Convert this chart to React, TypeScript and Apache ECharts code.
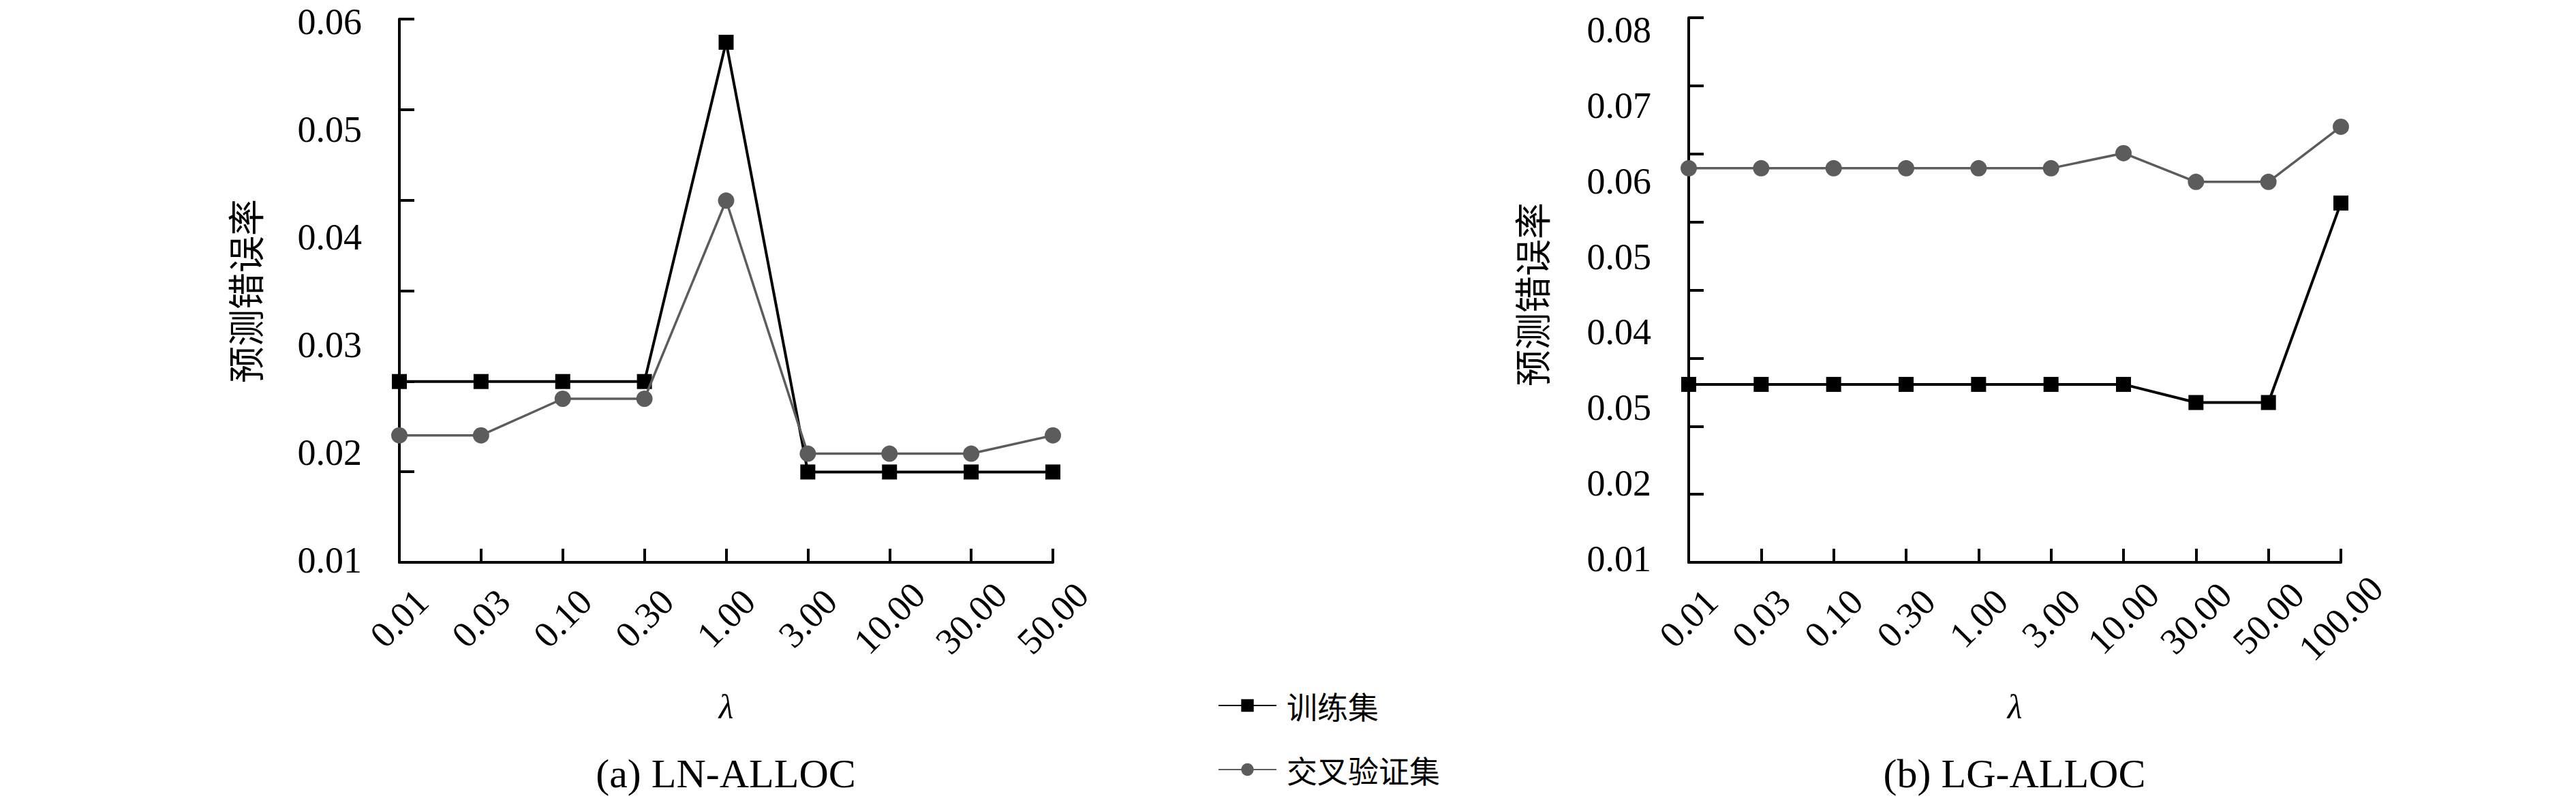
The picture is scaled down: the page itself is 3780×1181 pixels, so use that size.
import React, { useEffect, useRef } from "react";
import * as echarts from "echarts";

// ---- data ----
const lnLambda = ["0.01", "0.03", "0.10", "0.30", "1.00", "3.00", "10.00", "30.00", "50.00"];
const lnTrain = [0.0266, 0.0266, 0.0266, 0.0266, 0.0581, 0.0182, 0.0182, 0.0182, 0.0182];
const lnCV = [0.0216, 0.0216, 0.025, 0.025, 0.0434, 0.0199, 0.0199, 0.0199, 0.0216];

const lgLambda = ["0.01", "0.03", "0.10", "0.30", "1.00", "3.00", "10.00", "30.00", "50.00", "100.00"];
const lgTrain = [0.0331, 0.0331, 0.0331, 0.0331, 0.0331, 0.0331, 0.0331, 0.0307, 0.0307, 0.0571];
const lgCV = [0.0617, 0.0617, 0.0617, 0.0617, 0.0617, 0.0617, 0.0637, 0.0599, 0.0599, 0.0672];

const lnYTickLabels = ["0.01", "0.02", "0.03", "0.04", "0.05", "0.06"];
const lgYTickLabels = ["0.01", "0.02", "0.05", "0.04", "0.05", "0.06", "0.07", "0.08"];

const seriesNames = ["训练集", "交叉验证集"];
const subTitles = ["(a) LN-ALLOC", "(b) LG-ALLOC"];
const xName = "λ";
const yName = "预测错误率";

const SERIF = "Liberation Serif";
const CJK = "Noto Sans CJK SC";

export default function App() {
  const ref = useRef<HTMLDivElement>(null);
  useEffect(() => {
    if (!ref.current) return;
    const chart = echarts.init(ref.current, null, { renderer: "svg" });

    const axisLineStyle = { color: "#000", width: 4 };

    const makeDataX = (gridIndex: number, cats: string[]) => ({
      type: "category",
      gridIndex,
      data: cats,
      boundaryGap: false,
      offset: gridIndex === 0 ? 3 : 5,
      axisLine: { show: true, lineStyle: axisLineStyle },
      axisTick: { show: true, inside: true, length: 20, lineStyle: { width: 4, color: "#000" }, interval: 0 },
      axisLabel: {
        interval: 0,
        rotate: 45,
        align: "center",
        verticalAlign: "middle",
        margin: 82,
        fontSize: 54,
        fontFamily: SERIF,
        color: "#000",
      },
      splitLine: { show: false },
      name: xName,
      nameLocation: "middle",
      nameGap: 212,
      nameTextStyle: { fontSize: 50, fontFamily: SERIF, fontStyle: "italic", color: "#000", verticalAlign: "middle" },
    });
    const makeFrameX = (gridIndex: number) => ({
      type: "value",
      gridIndex,
      show: false,
      min: 0,
      max: 1,
    });
    const makeDataY = (gridIndex: number, maxV: number, labels: string[]) => ({
      type: "value",
      gridIndex,
      min: 0.01,
      max: maxV,
      interval: 0.01,
      axisLine: { show: false },
      axisTick: { show: false },
      splitLine: { show: false },
      axisLabel: {
        margin: 55,
        fontSize: 54,
        fontFamily: SERIF,
        color: "#000",
        formatter: (v: number) => labels[Math.round((v - 0.01) / 0.01)] ?? "",
      },
      name: yName,
      nameLocation: "middle",
      nameRotate: 90,
      nameGap: gridIndex === 0 ? 228 : 232,
      nameTextStyle: { fontSize: 54, fontFamily: CJK, color: "#000", verticalAlign: "middle" },
    });
    const makeFrameY = (gridIndex: number, n: number) => ({
      type: "value",
      gridIndex,
      min: 0,
      max: n,
      interval: 1,
      axisLine: { show: true, lineStyle: axisLineStyle },
      axisTick: { show: true, inside: true, length: 22, lineStyle: { width: 4, color: "#000" } },
      axisLabel: { show: false },
      splitLine: { show: false },
    });

    const trainStyle = (xi: number, yi: number, data: number[]) => ({
      name: seriesNames[0],
      type: "line",
      xAxisIndex: xi,
      yAxisIndex: yi,
      data,
      symbol: "rect",
      symbolSize: 22,
      itemStyle: { color: "#000" },
      lineStyle: { color: "#000", width: 4 },
      z: 3,
    });
    const cvStyle = (xi: number, yi: number, data: number[]) => ({
      name: seriesNames[1],
      type: "line",
      xAxisIndex: xi,
      yAxisIndex: yi,
      data,
      symbol: "circle",
      symbolSize: 24,
      itemStyle: { color: "#5c5c5c" },
      lineStyle: { color: "#5c5c5c", width: 3.5 },
      z: 4,
    });

    chart.setOption({
      animation: false,
      backgroundColor: "#fff",
      grid: [
        { left: 586, top: 32, width: 959, height: 790 },
        { left: 586, top: 28, width: 959, height: 797 },
        { left: 2478, top: 44, width: 957, height: 776 },
        { left: 2478, top: 26, width: 957, height: 799 },
      ],
      xAxis: [makeDataX(0, lnLambda), makeFrameX(1), makeDataX(2, lgLambda), makeFrameX(3)],
      yAxis: [
        makeDataY(0, 0.06, lnYTickLabels),
        makeFrameY(1, 6),
        makeDataY(2, 0.08, lgYTickLabels),
        makeFrameY(3, 8),
      ],
      legend: {
        orient: "vertical",
        left: 1787,
        top: 1008,
        height: 170,
        padding: 0,
        itemWidth: 85,
        itemHeight: 23,
        itemGap: 40,
        data: seriesNames,
        textStyle: { fontSize: 45, lineHeight: 54, fontFamily: CJK, color: "#000", padding: [0, 0, 0, 10] },
      },
      graphic: [
        {
          type: "text",
          x: 1065,
          y: 1135,
          style: { text: subTitles[0], align: "center", verticalAlign: "middle", fontSize: 60, fontFamily: SERIF, fill: "#000" },
        },
        {
          type: "text",
          x: 2956,
          y: 1135,
          style: { text: subTitles[1], align: "center", verticalAlign: "middle", fontSize: 60, fontFamily: SERIF, fill: "#000" },
        },
      ],
      series: [trainStyle(0, 0, lnTrain), cvStyle(0, 0, lnCV), trainStyle(2, 2, lgTrain), cvStyle(2, 2, lgCV)],
    });

    return () => chart.dispose();
  }, []);
  return <div ref={ref} style={{ position: "fixed", left: 0, top: 0, width: 3780, height: 1181 }} />;
}
